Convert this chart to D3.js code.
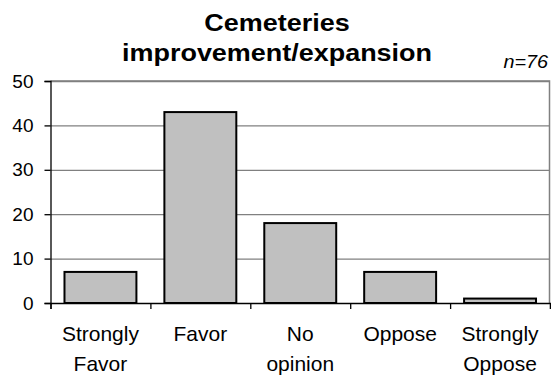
<!DOCTYPE html>
<html>
<head>
<meta charset="utf-8">
<script src="https://cdn.jsdelivr.net/npm/d3@7"></script>
<style>
  html, body { margin: 0; padding: 0; background: #ffffff; }
  svg { display: block; font-family: "Liberation Sans", Arial, sans-serif; }
</style>
</head>
<body>
<svg id="chart" width="551" height="379"></svg>
<script>
const titleLines = ["Cemeteries", "improvement/expansion"];
const sampleLabel = "n=76";
const categories = ["Strongly Favor", "Favor", "No opinion", "Oppose", "Strongly Oppose"];
const categoryLines = [["Strongly", "Favor"], ["Favor"], ["No", "opinion"], ["Oppose"], ["Strongly", "Oppose"]];
const counts = [7, 43, 18, 7, 1];
const yTicks = [0, 10, 20, 30, 40, 50];

const svg = d3.select("#chart");
const margin = { left: 50.5, right: 1, top: 81, bottom: 76 };
const W = 551, H = 379;
const x0 = margin.left, x1 = W - margin.right;
const y0 = H - margin.bottom, y1 = margin.top;

const x = d3.scaleBand().domain(categories).range([x0, x1]).paddingInner(0.28).paddingOuter(0.14);
const xb = d3.scaleLinear().domain([0, categories.length]).range([x0, x1]);
const y = d3.scaleLinear().domain([0, 50]).range([y0, y1]);

svg.append("rect").attr("width", W).attr("height", H).attr("fill", "#fff");

// gridlines
const grid = svg.append("g").attr("transform", `translate(${x0},0)`)
  .call(d3.axisLeft(y).tickValues(yTicks.filter(d => d > 0)).tickSize(-(x1 - x0)).tickFormat(""));
grid.select(".domain").remove();
grid.selectAll("line").attr("stroke", "#808080").attr("stroke-width", 1.3);

// plot border (top/right)
svg.append("path")
  .attr("d", `M${x0},${y1}H${x1 - 0.5}V${y0}`)
  .attr("fill", "none").attr("stroke", "#808080").attr("stroke-width", 1.5);

// bars
svg.append("g").selectAll("rect").data(categories).join("rect")
  .attr("x", d => x(d))
  .attr("y", (d, i) => y(counts[i]))
  .attr("width", x.bandwidth())
  .attr("height", (d, i) => y(0) - y(counts[i]))
  .attr("fill", "#c0c0c0")
  .attr("stroke", "#000")
  .attr("stroke-width", 2);

// y axis
const yAxis = svg.append("g").attr("transform", `translate(${x0},0)`)
  .call(d3.axisLeft(y).tickValues(yTicks).tickSize(6).tickPadding(11));
yAxis.select(".domain").attr("stroke", "#000").attr("stroke-width", 1.3);
yAxis.selectAll(".tick line").attr("stroke", "#000").attr("stroke-width", 1.3);
yAxis.selectAll(".tick text")
  .attr("font-size", 19).attr("fill", "#000")
  .attr("font-family", "Liberation Sans, Arial, sans-serif");

// x axis (boundary ticks)
const xAxis = svg.append("g").attr("transform", `translate(0,${y0})`)
  .call(d3.axisBottom(xb).ticks(categories.length).tickValues(d3.range(categories.length + 1)).tickSize(6).tickFormat(""));
xAxis.select(".domain").attr("stroke", "#000").attr("stroke-width", 1.3);
xAxis.selectAll(".tick line").attr("stroke", "#000").attr("stroke-width", 1.3);

// category labels
const lbl = svg.append("g").selectAll("text").data(categories).join("text")
  .attr("transform", d => `translate(${x(d) + x.bandwidth() / 2},0) scale(1.05,1)`)
  .attr("text-anchor", "middle")
  .attr("font-size", 20)
  .attr("fill", "#000");
lbl.selectAll("tspan").data((d, i) => categoryLines[i]).join("tspan")
  .attr("x", 0)
  .attr("y", (d, j) => 341.5 + j * 29.5)
  .text(d => d);

// title
svg.append("g").selectAll("text").data(titleLines).join("text")
  .attr("transform", (d, i) => `translate(277,${30.5 + i * 30.5}) scale(1.1,1)`)
  .attr("text-anchor", "middle")
  .attr("font-size", 24.5)
  .attr("font-weight", "bold")
  .attr("fill", "#000")
  .text(d => d);

// n label
svg.append("text")
  .attr("transform", "translate(548,68.3) scale(1.1,1)")
  .attr("text-anchor", "end")
  .attr("font-size", 18)
  .attr("font-style", "italic")
  .attr("fill", "#000")
  .text(sampleLabel);
</script>
</body>
</html>
